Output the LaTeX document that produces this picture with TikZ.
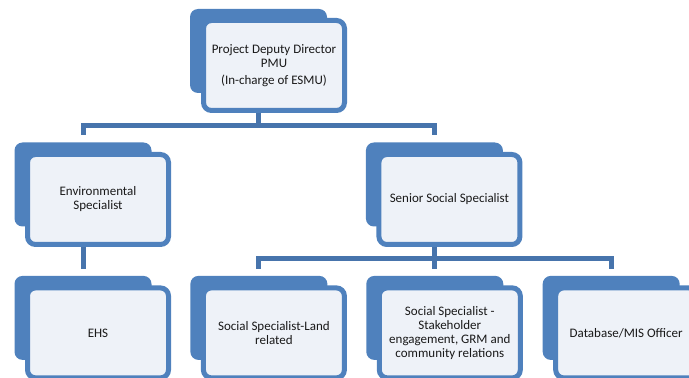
\documentclass[tikz,border=0pt]{standalone}
\usepackage{fontspec}
\setmainfont{Carlito}
\usetikzlibrary{positioning}
\definecolor{boxblue}{HTML}{4F81BD}
\definecolor{linkblue}{HTML}{4774AC}
\definecolor{cardfill}{HTML}{EEF2F8}
\tikzset{
    back/.style={fill=boxblue,rounded corners=8pt,inner sep=0pt,
        minimum width=137pt,minimum height=84pt},
    card/.style={draw=boxblue,line width=5pt,fill=cardfill,rounded corners=8pt,
        minimum width=141pt,minimum height=90pt,align=center,text=black!90,
        font=\fontsize{13}{14}\selectfont},
    link/.style={draw=linkblue,line width=5pt,shorten >=7pt}
}

\begin{document}
\begin{tikzpicture}[x=1pt,y=1pt]
    \useasboundingbox (0,0) rectangle (689,378);
    \clip (0,0) rectangle (689,378);
    % back plates
    \node[back] (pdd) at (258.5,327) {};
    \node[back] (env) at (83,193.5) {};
    \node[back] (sss) [right=214pt of env] {};
    \node[back] (ehs) [below=49pt of env] {};
    \node[back] (land) [right=38.5pt of ehs] {};
    \node[back] (stake) [right=38.5pt of land] {};
    \node[back] (db) [right=39pt of stake] {};
    % connectors
    \draw[link] (pdd.south) -- ++(0,-32) coordinate (bar1) -| (env.north);
    \draw[link] (bar1) -| (sss.north);
    \draw[link] (env.south) -- (ehs.north);
    \draw[link] (sss.south) -- ++(0,-31.5) coordinate (bar2) -| (land.north);
    \draw[link] (bar2) -| (stake.north);
    \draw[link] (bar2) -| (db.north);
    % front cards
    \node[card] (pdd-card) at ([shift={(15.5,-14.5)}]pdd.center)
        {Project Deputy Director\\PMU\\[3pt](In-charge of ESMU)};
    \node[card] (env-card) at ([shift={(15,-15)}]env.center) {Environmental\\Specialist};
    \node[card] (sss-card) at ([shift={(15,-15)}]sss.center) {Senior Social Specialist};
    \node[card] (ehs-card) at ([shift={(15,-15)}]ehs.center) {EHS};
    \node[card] (land-card) at ([shift={(15,-15)}]land.center) {Social Specialist-Land\\related};
    \node[card] (stake-card) at ([shift={(15,-15)}]stake.center)
        {Social Specialist -\\Stakeholder\\engagement, GRM and\\community relations};
    \node[card] (db-card) at ([shift={(15,-15)}]db.center) {Database/MIS Officer};
\end{tikzpicture}
\end{document}
